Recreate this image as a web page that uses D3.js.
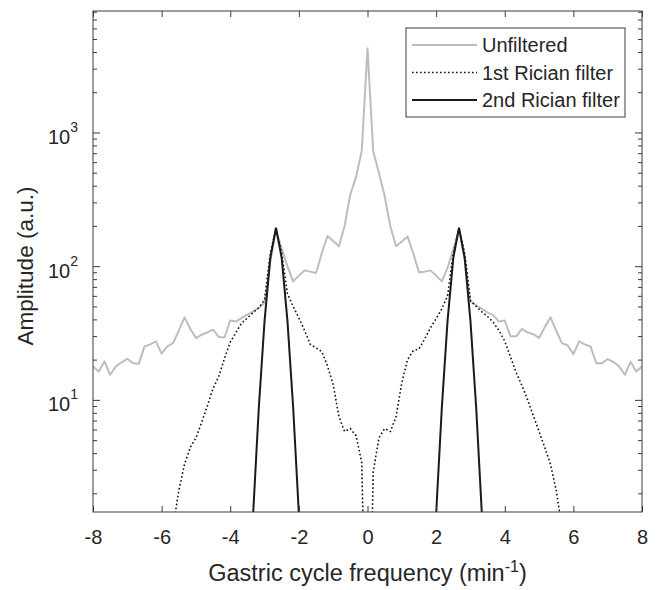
<!DOCTYPE html>
<html>
<head>
<meta charset="utf-8">
<script src="https://cdn.jsdelivr.net/npm/d3@7"></script>
<style>
body { margin: 0; background: #fff; }
text { font-family: "Liberation Sans", Arial, sans-serif; fill: #262626; }
</style>
</head>
<body>
<script>
var width = 660;
var height = 590;
var margin = {left: 93, right: 18, top: 11, bottom: 78};

// frequency grid (min^-1)
var freq = [-8, -7.833, -7.667, -7.5, -7.333, -7.167, -7, -6.833, -6.667, -6.5, -6.333, -6.167,
  -6, -5.833, -5.667, -5.5, -5.333, -5.167, -5, -4.833, -4.667, -4.5, -4.333, -4.167,
  -4, -3.833, -3.667, -3.5, -3.333, -3.167, -3, -2.833, -2.667, -2.5, -2.333, -2.167,
  -2, -1.833, -1.667, -1.5, -1.333, -1.167, -1, -0.833, -0.667, -0.5, -0.333, -0.167,
  0,
  0.167, 0.333, 0.5, 0.667, 0.833, 1, 1.167, 1.333, 1.5, 1.667, 1.833, 2,
  2.167, 2.333, 2.5, 2.667, 2.833, 3, 3.167, 3.333, 3.5, 3.667, 3.833, 4,
  4.167, 4.333, 4.5, 4.667, 4.833, 5, 5.167, 5.333, 5.5, 5.667, 5.833, 6,
  6.167, 6.333, 6.5, 6.667, 6.833, 7, 7.167, 7.333, 7.5, 7.667, 7.833, 8];

var unfiltered = [17.8, 16.3, 19.4, 15.4, 17.8, 19.1, 20.3, 18.8, 18.6, 25.1, 26, 27.4,
  22.2, 25.1, 26.6, 33, 41.4, 34, 29, 30.7, 32, 33.5, 29.5, 29.3,
  39.2, 38.5, 41, 43.5, 46, 48.7, 53, 108, 186, 135, 100, 77,
  85, 93, 91, 89, 125, 168, 154, 141, 200, 345, 465, 730,
  4270,
  720, 500, 335, 198, 141, 153, 167, 125, 90, 91, 93, 85,
  77, 97, 134, 188, 112, 55, 51, 48, 45, 43, 38.5, 39.2,
  29.9, 29.9, 34, 32, 31, 29, 35, 41.4, 33, 26.6, 25.5, 22,
  27.4, 26, 25.1, 18.8, 18.8, 20.2, 19.2, 17.8, 15.4, 19.3, 16.3, 17.8];

var rician1 = [0.3, 0.3, 0.3, 0.3, 0.3, 0.3, 0.3, 0.3, 0.3, 0.3, 0.3, 0.3,
  0.3, 0.5, 1.1, 2.1, 3.3, 4.4, 5.2, 6.8, 9, 12.2, 15, 20.5,
  27, 32, 37.5, 41, 45, 49, 56, 125, 190, 125, 62, 50,
  41, 33, 26, 24.5, 23, 18, 13, 7.5, 5.8, 6.1, 5.4, 3.4,
  0.03,
  2.9, 5.2, 6.1, 5.8, 7.5, 13.5, 20, 23.3, 24, 28.5, 34.5, 40.5,
  48, 60, 125, 190, 125, 55, 50, 45.5, 42, 38, 33, 27.5,
  21, 16, 12.8, 10, 7.6, 5.8, 4.4, 3.3, 2.1, 1.1, 0.5, 0.3,
  0.3, 0.3, 0.3, 0.3, 0.3, 0.3, 0.3, 0.3, 0.3, 0.3, 0.3, 0.3];

var rician2Freq = [-3.5, -3.333, -3.167, -3, -2.833, -2.667, -2.5, -2.333, -2.167, -2, -1.833,
  1.833, 2, 2.167, 2.333, 2.5, 2.667, 2.833, 3, 3.167, 3.333, 3.5];
var rician2 = [0.05, 1.4, 8.8, 39, 115, 194, 115, 39, 8.8, 1.4, 0.05,
  0.05, 1.4, 8.8, 39, 115, 194, 115, 39, 8.8, 1.4, 0.05];

var xTicks = [-8, -6, -4, -2, 0, 2, 4, 6, 8];
var yTicks = [10, 100, 1000];
var yMinor = [2, 3, 4, 5, 6, 7, 8, 9, 20, 30, 40, 50, 60, 70, 80, 90,
  200, 300, 400, 500, 600, 700, 800, 900, 2000, 3000, 4000, 5000, 6000, 7000, 8000];

var legendLabels = ["Unfiltered", "1st Rician filter", "2nd Rician filter"];

var svg = d3.select('body').append('svg')
  .attr('width', width)
  .attr('height', height);

var x = d3.scaleLinear().domain([-8, 8]).range([margin.left, width - margin.right]);
var y = d3.scaleLog().domain([1.45, 8100]).range([height - margin.bottom, margin.top]);

var plotW = width - margin.left - margin.right;
var plotH = height - margin.top - margin.bottom;

svg.append('clipPath').attr('id', 'plotclip')
  .append('rect')
  .attr('x', margin.left).attr('y', margin.top)
  .attr('width', plotW).attr('height', plotH);

var plotG = svg.append('g').attr('clip-path', 'url(#plotclip)');

var line = d3.line()
  .x(d => x(d[0]))
  .y(d => y(d[1]));

plotG.append('path')
  .datum(d3.zip(freq, unfiltered))
  .attr('d', line)
  .attr('fill', 'none')
  .attr('stroke', '#bdbdbd')
  .attr('stroke-width', 2)
  .attr('stroke-linejoin', 'round');

plotG.append('path')
  .datum(d3.zip(freq, rician1))
  .attr('d', line)
  .attr('fill', 'none')
  .attr('stroke', '#111')
  .attr('stroke-width', 1.6)
  .attr('stroke-dasharray', '1.6 2.4');

plotG.append('path')
  .datum(d3.zip(rician2Freq, rician2))
  .attr('d', line)
  .attr('fill', 'none')
  .attr('stroke', '#1a1a1a')
  .attr('stroke-width', 2);

// axes
var axisColor = '#3a3a3a';
var styleAxis = function(g) {
  g.select('.domain').remove();
  g.selectAll('.tick line').attr('stroke', axisColor);
  g.selectAll('text').style('font-size', '20px').attr('fill', '#262626');
};

svg.append('g')
  .attr('transform', 'translate(0,' + (height - margin.bottom) + ')')
  .call(d3.axisBottom(x).tickValues(xTicks).tickSizeInner(-6).tickSizeOuter(0).tickPadding(18)
    .tickFormat(d => String(d)))
  .call(styleAxis);

svg.append('g')
  .attr('transform', 'translate(0,' + margin.top + ')')
  .call(d3.axisTop(x).tickValues(xTicks).tickSizeInner(-6).tickSizeOuter(0).tickFormat(''))
  .call(styleAxis);

var yAxisG = svg.append('g')
  .attr('transform', 'translate(' + margin.left + ',0)')
  .call(d3.axisLeft(y).tickValues(yTicks).tickSizeInner(-7).tickSizeOuter(0).tickPadding(15))
  .call(styleAxis);

yAxisG.selectAll('.tick text')
  .attr('dy', '0.55em')
  .each(function(d) {
    var t = d3.select(this);
    t.text('');
    t.append('tspan').text('10');
    t.append('tspan').attr('dy', -12).style('font-size', '14px').text(Math.round(Math.log10(d)));
  });

svg.append('g')
  .attr('transform', 'translate(' + margin.left + ',0)')
  .call(d3.axisLeft(y).tickValues(yMinor).tickSizeInner(-4).tickSizeOuter(0).tickFormat(''))
  .call(styleAxis);

svg.append('g')
  .attr('transform', 'translate(' + (width - margin.right) + ',0)')
  .call(d3.axisRight(y).tickValues(yTicks).tickSizeInner(-7).tickSizeOuter(0).tickFormat(''))
  .call(styleAxis);

svg.append('g')
  .attr('transform', 'translate(' + (width - margin.right) + ',0)')
  .call(d3.axisRight(y).tickValues(yMinor).tickSizeInner(-4).tickSizeOuter(0).tickFormat(''))
  .call(styleAxis);

// box
svg.append('rect')
  .attr('x', margin.left).attr('y', margin.top)
  .attr('width', plotW).attr('height', plotH)
  .attr('fill', 'none')
  .attr('stroke', axisColor)
  .attr('stroke-width', 1);

// axis titles
var xTitle = svg.append('text')
  .attr('x', margin.left + plotW / 2)
  .attr('y', 581)
  .attr('text-anchor', 'middle')
  .style('font-size', '23.5px');
xTitle.append('tspan').text('Gastric cycle frequency (min');
xTitle.append('tspan').attr('dy', -9).style('font-size', '16px').text('-1');
xTitle.append('tspan').attr('dy', 9).text(')');

svg.append('text')
  .attr('transform', 'translate(33,266) rotate(-90)')
  .attr('text-anchor', 'middle')
  .style('font-size', '22.5px')
  .text('Amplitude (a.u.)');

// legend
var legendG = svg.append('g').attr('transform', 'translate(406,28)');
legendG.append('rect')
  .attr('width', 219).attr('height', 89)
  .attr('fill', '#fff')
  .attr('stroke', axisColor)
  .attr('stroke-width', 1);

var legendStyles = [
  {stroke: '#bdbdbd', width: 2, dash: null},
  {stroke: '#111', width: 1.6, dash: '1.6 2.4'},
  {stroke: '#1a1a1a', width: 2, dash: null}
];

legendLabels.forEach(function(label, i) {
  var yy = 17 + i * 27.5;
  legendG.append('line')
    .attr('x1', 6).attr('x2', 71)
    .attr('y1', yy).attr('y2', yy)
    .attr('stroke', legendStyles[i].stroke)
    .attr('stroke-width', legendStyles[i].width)
    .attr('stroke-dasharray', legendStyles[i].dash);
  legendG.append('text')
    .attr('x', 76)
    .attr('y', yy)
    .attr('dy', '0.36em')
    .style('font-size', '20px')
    .text(label);
});
</script>
</body>
</html>
